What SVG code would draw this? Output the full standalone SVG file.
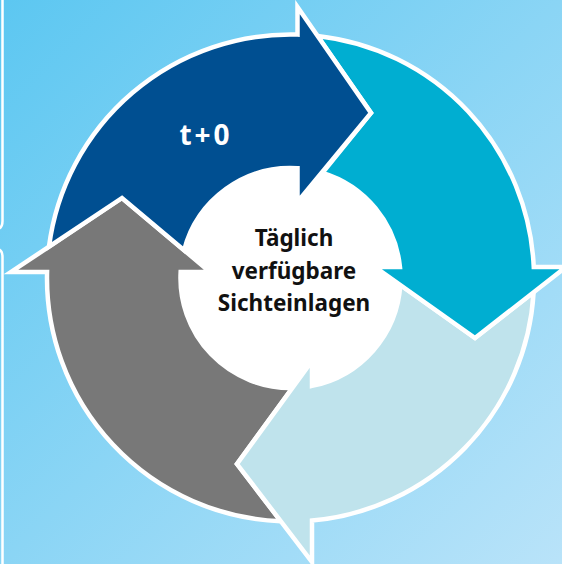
<svg xmlns="http://www.w3.org/2000/svg" width="562" height="564" viewBox="0 0 562 564">
  <defs>
    <linearGradient id="bg" x1="0" y1="0" x2="1" y2="1">
      <stop offset="0" stop-color="#5cc7f1"/>
      <stop offset="1" stop-color="#b9e3f9"/>
    </linearGradient>
    <style>
      .seg { stroke: #ffffff; stroke-width: 4.5; stroke-linejoin: miter; stroke-miterlimit: 10; }
      .edge { fill: none; stroke: #ffffff; stroke-width: 2.5; stroke-linecap: round; }
      .center { font-family: "Noto Sans", "DejaVu Sans", sans-serif; font-weight: 700; font-size: 22.5px; fill: #111111; text-anchor: middle; }
      .label { font-family: "Noto Sans", "DejaVu Sans", sans-serif; font-weight: 700; font-size: 28px; fill: #ffffff; text-anchor: middle; letter-spacing: 3px; }
    </style>
  </defs>
  <rect x="0" y="0" width="562" height="564" fill="url(#bg)"/>
  <path class="edge" d="M2.5,-2 V221 Q2.5,228 -2,229"/>
  <path class="edge" d="M-2,249 Q2.5,250 2.5,257 V566"/>

  <circle id="center-disc" cx="290.5" cy="278" r="110" fill="#ffffff"/>

  <g id="connectors"></g>

  <g id="arrow-gray">
    <path class="seg" fill="#787878" d="M280.9,521.3 A243.5,243.5 0 0 1 47.07,272 L11,272 L122,198 L210,272 L180.66,272 A110,110 0 0 0 292.35,388 L237,464 Z"/>
  </g>
  <g id="arrow-light">
    <path class="seg" fill="#bfe3ec" d="M533.6,292.3 A243.5,243.5 0 0 1 312,520.55 L312,562 L237,464 L312,361 L312,385.9 A110,110 0 0 0 400.3,284.9 L475,338 Z"/>
  </g>
  <g id="arrow-cyan">
    <path class="seg" fill="#00aed1" d="M317.5,36 A243.5,243.5 0 0 1 533.75,267 L566,267 L475,338 L375,267 L399.95,267 A110,110 0 0 0 322.5,172.8 L371,113 Z"/>
  </g>
  <g id="arrow-blue">
    <path class="seg" fill="#004f91" d="M49,246.6 A243.5,243.5 0 0 1 297.5,34.6 L297.5,7 L371,113 L297.5,202 L297.5,168.2 A110,110 0 0 0 184.1,250.2 L122,198 Z"/>
    <text class="label" x="206" y="145">t+0</text>
  </g>
  <g id="center-label">
    <text class="center" x="294" y="245.5">Täglich</text>
    <text class="center" x="294" y="278.5">verfügbare</text>
    <text class="center" x="294" y="311">Sichteinlagen</text>
  </g>
</svg>
